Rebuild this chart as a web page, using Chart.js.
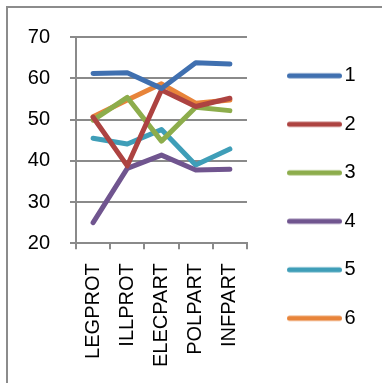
<!DOCTYPE html>
<html>
<head>
<meta charset="utf-8">
<script src="https://cdn.jsdelivr.net/npm/chart.js@4"></script>
<style>
  html, body { margin: 0; padding: 0; background: #fff; }
  #wrap { position: relative; width: 382px; height: 383px; overflow: hidden; }
  #frame { position: absolute; left: 6px; top: 6px; right: -4px; bottom: -4px;
           border-left: 2px solid #8c8c8c; border-top: 2px solid #8c8c8c; }
  canvas { position: absolute; left: 0; top: 0; }
</style>
</head>
<body>
<div id="wrap">
  <div id="frame"></div>
  <canvas id="c" width="382" height="383"></canvas>
</div>
<script>
// Participation measures on the x axis
const categories = ['LEGPROT', 'ILLPROT', 'ELECPART', 'POLPART', 'INFPART'];

// Mean score of each group on each measure
const series1 = [61.2, 61.4, 57.6, 63.8, 63.5];
const series2 = [50.6, 38.8, 57.2, 53.2, 55.2];
const series3 = [49.9, 55.4, 44.8, 53.0, 52.2];
const series4 = [25.0, 38.2, 41.4, 37.8, 38.0];
const series5 = [45.5, 44.1, 47.6, 39.0, 42.9];
const series6 = [50.7, 54.8, 58.7, 54.0, 54.8];

const seriesNames = ['1', '2', '3', '4', '5', '6'];
const seriesValues = [series1, series2, series3, series4, series5, series6];
const seriesColors = ['#4070B0', '#AD4341', '#8DAD4C', '#70558F', '#3F9EB8', '#E8843A'];

const yTicks = [20, 30, 40, 50, 60, 70];

const gridGray = '#8a8a8a';
const font = { family: 'Liberation Sans', size: 20 };
const LW = 5;

// Legend swatch: a round-capped stroke drawn into a small canvas used as the
// legend point style; the blank lead-in sets the gap from the plot.
const legendPad = 28.5;
const swatchSlot = 59;   // pointStyleWidth: space reserved before the text
const swatchLead = 11.5; // blank space before the stroke
const swatchLen = 55;    // stroke length including caps
function swatch(color) {
  const half = swatchLead + swatchLen - swatchSlot / 2;
  const c = document.createElement('canvas');
  c.width = Math.round(2 * half);
  c.height = 8;
  const g = c.getContext('2d');
  g.strokeStyle = color;
  g.lineWidth = LW;
  g.lineCap = 'round';
  g.beginPath();
  g.moveTo(c.width - swatchLen + LW / 2, 4);
  g.lineTo(c.width - LW / 2, 4);
  g.stroke();
  return c;
}

new Chart(document.getElementById('c'), {
  type: 'line',
  data: {
    labels: categories,
    datasets: seriesValues.map((vals, i) => ({
      label: seriesNames[i],
      data: vals,
      borderColor: seriesColors[i],
      backgroundColor: seriesColors[i],
      borderWidth: LW,
      borderCapStyle: 'round',
      borderJoinStyle: 'round',
      pointRadius: 0,
      pointHoverRadius: 0,
      tension: 0,
      fill: false
    }))
  },
  options: {
    responsive: false,
    animation: false,
    layout: { padding: { top: 37.3, bottom: 15.7, left: 0, right: 16.4 } },
    plugins: {
      tooltip: { enabled: false },
      legend: {
        position: 'right',
        align: 'start',
        maxWidth: 200,
        labels: {
          usePointStyle: true,
          pointStyleWidth: swatchSlot,
          padding: legendPad,
          color: '#000',
          font: font,
          generateLabels: chart => Chart.defaults.plugins.legend.labels.generateLabels(chart)
            .map(it => Object.assign(it, { pointStyle: swatch(seriesColors[it.datasetIndex]) }))
        }
      }
    },
    scales: {
      x: {
        offset: true,
        grid: { display: true, offset: true, drawOnChartArea: false, tickLength: 6,
                color: gridGray, lineWidth: 2 },
        border: { display: true, color: gridGray, width: 2 },
        ticks: { color: '#000', font: font, minRotation: 90, maxRotation: 90,
                 autoSkip: false, padding: 14 },
        afterFit: s => { s.height = 124; }
      },
      y: {
        min: 20,
        max: 70,
        afterBuildTicks: s => { s.ticks = yTicks.map(v => ({ value: v })); },
        grid: { color: gridGray, lineWidth: 2, tickLength: 6 },
        border: { display: true, color: gridGray, width: 2 },
        ticks: { color: '#000', font: font, padding: 20 },
        afterFit: s => { s.width = 76; }
      }
    }
  }
});
</script>
</body>
</html>
